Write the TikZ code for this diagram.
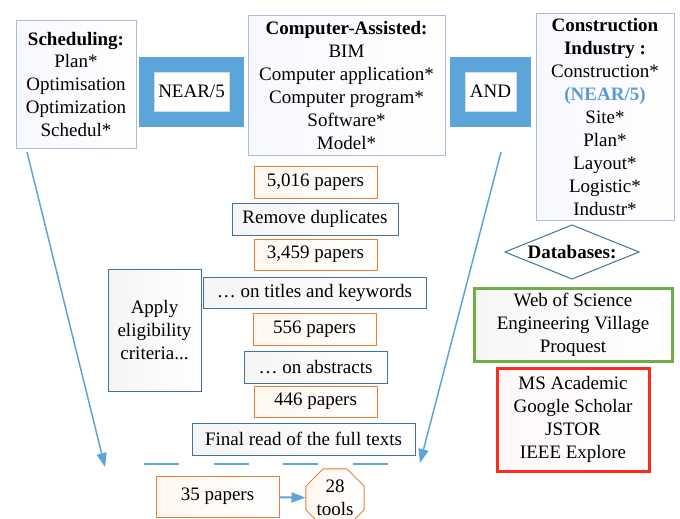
\documentclass[tikz,border=0pt]{standalone}
\usepackage{fontspec}
\setmainfont{Liberation Serif}
\usetikzlibrary{arrows.meta,shapes.geometric}
\definecolor{lblue}{HTML}{5BA5DA}
\definecolor{frameb}{HTML}{A9BED6}
\definecolor{darkb}{HTML}{41719C}
\definecolor{orng}{HTML}{ED7D31}
\definecolor{grn}{HTML}{70AD47}
\definecolor{rd}{HTML}{FF2B1C}
\definecolor{nearblue}{HTML}{5B9BD5}
\begin{document}
\begin{tikzpicture}[x=1pt,y=-1pt,
  every node/.style={font=\fontsize{19}{23}\selectfont, align=center, inner sep=0pt},
  topbox/.style={draw=frameb, line width=1pt, left color=blue!3, right color=white},
  opbox/.style={draw=darkb, line width=1pt, left color=gray!8, right color=white},
  paperbox/.style={draw=orng, line width=1pt, left color=orange!6, right color=white},
  thickbox/.style={fill=lblue, draw=none},
  innerbox/.style={fill=white, draw=gray!30, line width=0.8pt},
  conn/.style={draw=lblue, line width=1.5pt, -{Triangle[width=10pt,length=14pt]}},
  dbgreen/.style={draw=grn, line width=3pt, left color=gray!7, right color=white},
  dbred/.style={draw=rd, line width=3pt, left color=red!3, right color=white}
]
\useasboundingbox (0,0) rectangle (680,519);

% top row
\node[topbox, minimum width=120pt, minimum height=128pt] (sched) at (76,84.5)
  {\textbf{Scheduling:}\\Plan*\\Optimisation\\Optimization\\Schedul*};
\node[thickbox, minimum width=105pt, minimum height=70pt] (nearout) at (191.5,92) {};
\node[innerbox, minimum width=75pt, minimum height=39pt] (near) at (191.5,91.5) {NEAR/5};
\node[topbox, minimum width=197pt, minimum height=140pt] (comp) at (346.5,85.5)
  {\textbf{Computer-Assisted:}\\BIM\\Computer application*\\Computer program*\\Software*\\Model*};
\node[thickbox, minimum width=81pt, minimum height=70pt] (andout) at (490.5,92) {};
\node[innerbox, minimum width=51pt, minimum height=39pt] (and) at (490.5,91.5) {AND};
\node[topbox, minimum width=138pt, minimum height=207pt] (constr) at (605,117)
  {\textbf{Construction}\\\textbf{Industry :}\\Construction*\\\textbf{\textcolor{nearblue}{(NEAR/5)}}\\Site*\\Plan*\\Layout*\\Logistic*\\Industr*};

% databases
\coordinate (dl) at (505,252);
\coordinate (dt) at (572,225);
\coordinate (dr) at (639,252);
\coordinate (db) at (572,279);
\draw[draw=darkb, line width=1pt, fill=white] (dl) -- (dt) -- (dr) -- (db) -- cycle;
\node (dbs) at (572,252) {\textbf{Databases:}};
\node[dbgreen, minimum width=198pt, minimum height=73pt] (green) at (573,324.5)
  {Web of Science\\Engineering Village\\Proquest};
\node[dbred, minimum width=152pt, minimum height=103pt] (red) at (573,419.5)
  {MS Academic\\Google Scholar\\JSTOR\\IEEE Explore};

% middle column
\node[paperbox, minimum width=123pt, minimum height=32pt] (p1) at (315.5,182) {5,016 papers};
\node[opbox, minimum width=166pt, minimum height=32pt] (dup) at (315,219) {Remove duplicates};
\node[paperbox, minimum width=123pt, minimum height=31pt] (p2) at (315.5,254.5) {3,459 papers};
\node[opbox, minimum width=223pt, minimum height=31pt] (titles) at (314.5,292.5) {\dots\ on titles and keywords};
\node[paperbox, minimum width=123pt, minimum height=32pt] (p3) at (314.5,329) {556 papers};
\node[opbox, minimum width=93pt, minimum height=122pt] (apply) at (154.5,330) {Apply\\eligibility\\criteria...};
\node[opbox, minimum width=143pt, minimum height=32pt] (abs) at (315.5,367) {\dots\ on abstracts};
\node[paperbox, minimum width=123pt, minimum height=31pt] (p4) at (315.5,401.5) {446 papers};
\node[opbox, minimum width=223pt, minimum height=32pt] (final) at (303.5,439) {Final read of the full texts};
\node[paperbox, minimum width=123pt, minimum height=41pt] (p5) at (217.5,496.5) {35 papers};
\node[regular polygon, regular polygon sides=8, draw=orng, line width=1pt, left color=orange!6, right color=white,
  minimum size=62.8pt] (tools) at (335,498) {28\\tools};

% connectors
\coordinate (la1) at (27,152);
\coordinate (la2) at (105,467);
\coordinate (ra1) at (501,152);
\coordinate (ra2) at (420,463);
\draw[conn] (la1) -- (la2);
\draw[conn] (ra1) -- (ra2);
\coordinate (ds1) at (144,464);
\coordinate (ds2) at (388,464);
\draw[lblue, line width=2pt, dash pattern=on 35pt off 34.67pt] (ds1) -- (ds2);
\draw[conn, line width=2pt] (p5) -- (tools);
\end{tikzpicture}
\end{document}
